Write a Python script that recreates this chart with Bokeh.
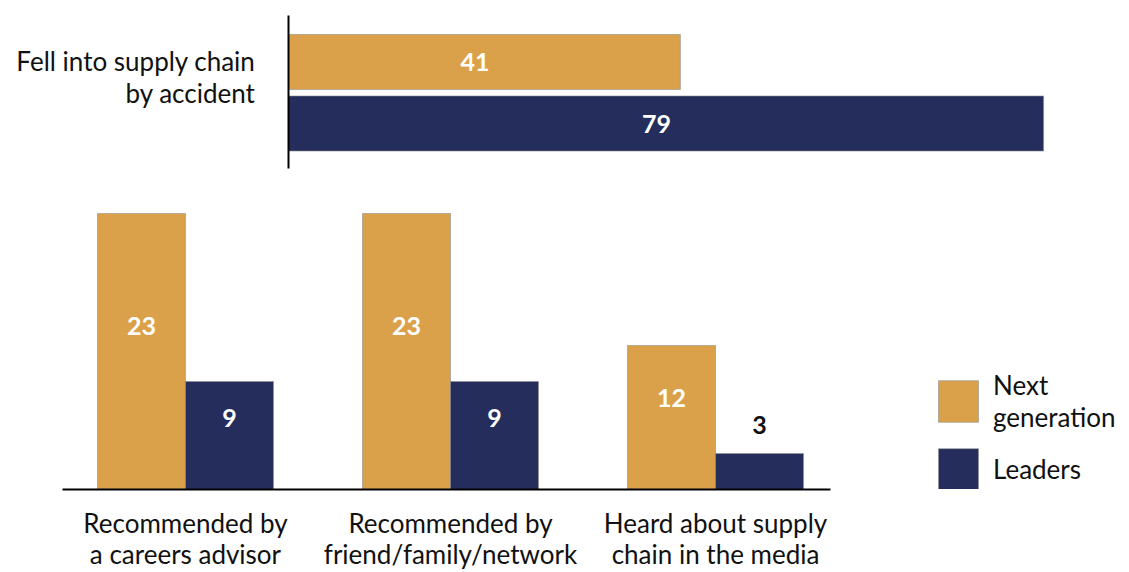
from bokeh.plotting import figure
from bokeh.models import Range1d, ColumnDataSource, Legend, LegendItem, FixedTicker
from bokeh.transform import dodge
from bokeh.layouts import column
from bokeh.embed import file_html
from bokeh.resources import INLINE
from bokeh.core.properties import value

# ---- data ----
top_category = ["Fell into supply chain\nby accident"]
top_next_gen = [41]
top_leaders = [79]

categories = ["Recommended by\na careers advisor",
              "Recommended by\nfriend/family/network",
              "Heard about supply\nchain in the media"]
next_gen = [23, 23, 12]
leaders = [9, 9, 3]

series_names = ["Next\ngeneration", "Leaders"]

ORANGE = "#DBA14A"
NAVY = "#242D5C"
EDGE = "#8f8f8f"
FONT = "Lato"
TXT = "#111111"
CAT_SIZE = "26px"
VAL_SIZE = "25px"
LINE_H = 1.0

# ---- top horizontal chart ----
top_pos = list(range(len(top_category)))
top = figure(width=1129, height=180,
             y_range=Range1d(-0.601, 0.399),
             x_range=Range1d(0, 86),
             x_axis_location=None,
             output_backend="svg", toolbar_location=None,
             min_border_left=288, min_border_right=19,
             min_border_top=15, min_border_bottom=12)
top.frame_align = False
top.outline_line_color = None
top.grid.visible = False
top.yaxis.ticker = FixedTicker(ticks=top_pos)
top.yaxis.major_label_overrides = {i: c for i, c in zip(top_pos, top_category)}
top.yaxis.axis_line_color = "black"
top.yaxis.axis_line_width = 2
top.yaxis.major_tick_line_color = None
top.yaxis.minor_tick_line_color = None
top.yaxis.major_label_text_font = FONT
top.yaxis.major_label_text_font_size = CAT_SIZE
top.yaxis.major_label_text_color = TXT
top.yaxis.major_label_text_line_height = LINE_H
top.yaxis.major_label_standoff = 27

tsrc = ColumnDataSource(dict(
    pos=top_pos, nxt=top_next_gen, lead=top_leaders,
    nxt_mid=[v / 2 - 1 for v in top_next_gen],
    lead_mid=[v / 2 - 1 for v in top_leaders],
    nxt_lbl=[str(v) for v in top_next_gen],
    lead_lbl=[str(v) for v in top_leaders]))

top.hbar(y=dodge("pos", 0.095), left=0, right="nxt",
         height=0.36, fill_color=ORANGE, line_color=EDGE, line_width=0.6, source=tsrc)
top.hbar(y=dodge("pos", -0.307), left=0, right="lead",
         height=0.36, fill_color=NAVY, line_color=EDGE, line_width=0.6, source=tsrc)
top.text(x="nxt_mid", y=dodge("pos", 0.095), text="nxt_lbl",
         text_align="center", text_baseline="middle", text_color="white",
         text_font=value(FONT), text_font_style="bold", text_font_size=VAL_SIZE, source=tsrc)
top.text(x="lead_mid", y=dodge("pos", -0.307), text="lead_lbl",
         text_align="center", text_baseline="middle", text_color="white",
         text_font=value(FONT), text_font_style="bold", text_font_size=VAL_SIZE, source=tsrc)

# ---- bottom grouped vertical chart ----
positions = list(range(len(categories)))
bottom = figure(width=1129, height=392,
                x_range=Range1d(-0.464, 3.562),
                y_range=Range1d(0, 24.5),
                y_axis_location=None,
                output_backend="svg", toolbar_location=None,
                min_border_left=62, min_border_right=0,
                min_border_top=15, min_border_bottom=82)
bottom.frame_align = False
bottom.outline_line_color = None
bottom.grid.visible = False
bottom.xaxis.ticker = FixedTicker(ticks=positions)
bottom.xaxis.major_label_overrides = {i: c for i, c in zip(positions, categories)}
bottom.xaxis.bounds = (-0.464, 2.432)
bottom.xaxis.axis_line_color = "black"
bottom.xaxis.axis_line_width = 2
bottom.xaxis.major_tick_line_color = None
bottom.xaxis.minor_tick_line_color = None
bottom.xaxis.major_label_text_font = FONT
bottom.xaxis.major_label_text_font_size = CAT_SIZE
bottom.xaxis.major_label_text_color = TXT
bottom.xaxis.major_label_text_line_height = 0.97
bottom.xaxis.major_label_standoff = 11


def label_pos(vals):
    return [v * 0.55 + 1 if v >= 5 else v + 2.4 for v in vals]


def label_col(vals):
    return ["white" if v >= 5 else TXT for v in vals]


bsrc = ColumnDataSource(dict(
    pos=positions, nxt=next_gen, lead=leaders,
    nxt_y=label_pos(next_gen), lead_y=label_pos(leaders),
    nxt_c=label_col(next_gen), lead_c=label_col(leaders),
    nxt_lbl=[str(v) for v in next_gen], lead_lbl=[str(v) for v in leaders]))

r1 = bottom.vbar(x=dodge("pos", -0.166), bottom=0, top="nxt",
                 width=0.332, fill_color=ORANGE, line_color=EDGE, line_width=0.6, source=bsrc)
r2 = bottom.vbar(x=dodge("pos", 0.166), bottom=0, top="lead",
                 width=0.332, fill_color=NAVY, line_color=EDGE, line_width=0.6, source=bsrc)
bottom.text(x=dodge("pos", -0.166), y="nxt_y", text="nxt_lbl",
            text_align="center", text_baseline="middle", text_color="nxt_c",
            text_font=value(FONT), text_font_style="bold", text_font_size=VAL_SIZE, source=bsrc)
bottom.text(x=dodge("pos", 0.166), y="lead_y", text="lead_lbl",
            text_align="center", text_baseline="middle", text_color="lead_c",
            text_font=value(FONT), text_font_style="bold", text_font_size=VAL_SIZE, source=bsrc)

legend = Legend(items=[LegendItem(label=series_names[0], renderers=[r1]),
                       LegendItem(label=series_names[1], renderers=[r2])],
                location=(871, -6),
                glyph_width=50, glyph_height=52,
                label_text_font=FONT, label_text_font_size=CAT_SIZE,
                label_text_color=TXT, label_text_line_height=LINE_H,
                label_standoff=10, spacing=10, padding=0, margin=0,
                border_line_color=None, background_fill_alpha=0)
bottom.add_layout(legend)

layout = column(top, bottom, spacing=0)
open("out.html", "w").write(file_html(layout, INLINE))
